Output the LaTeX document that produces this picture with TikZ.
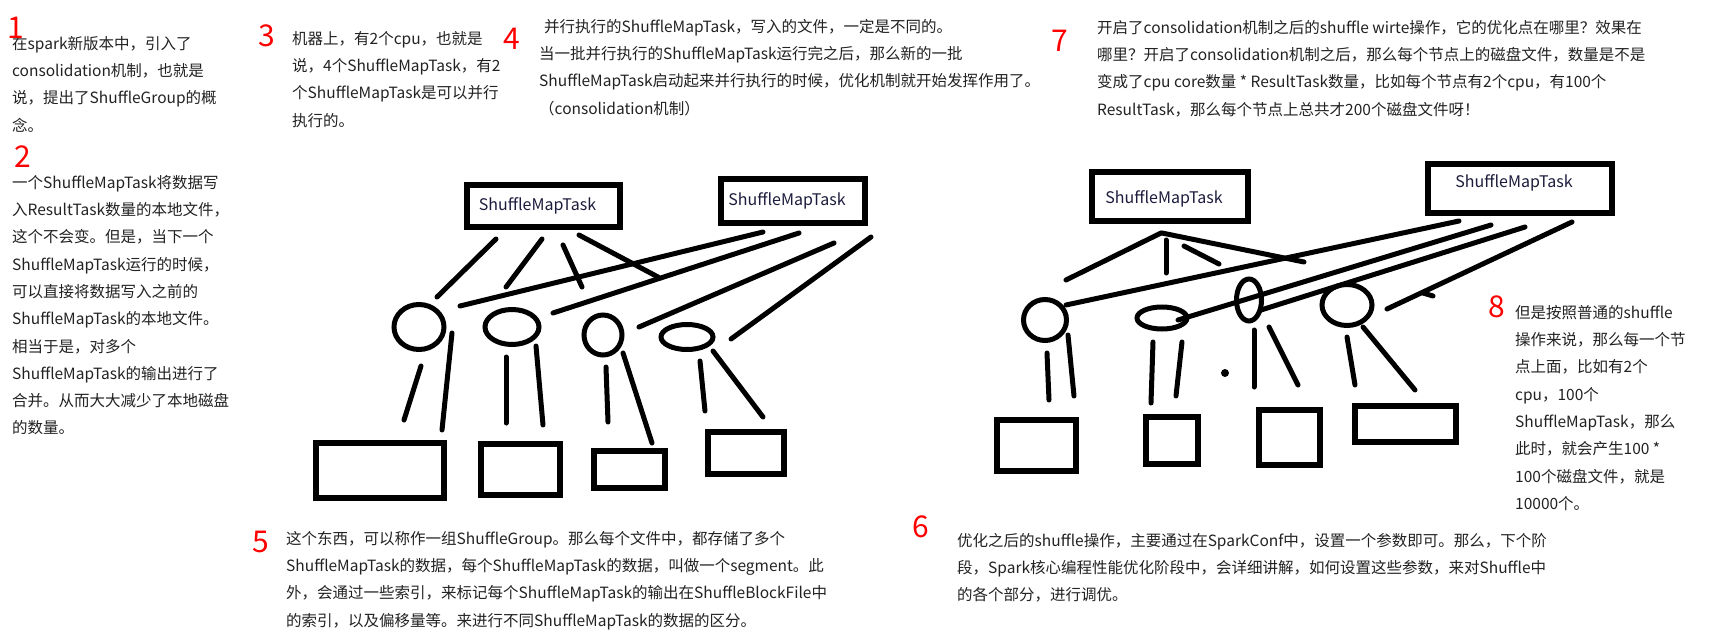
\documentclass[tikz,border=0pt]{standalone}
\usepackage{fontspec}
\newfontfamily\cjk{Noto Sans CJK SC}
\usetikzlibrary{shapes.geometric}
\usepackage{xcolor}
\definecolor{notegray}{RGB}{34,34,34}
\definecolor{tasknavy}{RGB}{28,28,60}
\definecolor{stepred}{RGB}{255,0,0}

\begin{document}
\begin{tikzpicture}[
x=1pt, y=-1pt,
note/.style={anchor=north west,
inner sep=0pt,
align=left,
text=notegray,
font=\cjk\fontsize{15.5}{27.3}\selectfont},
num/.style={inner sep=0pt,
text=stepred,
font=\cjk\fontsize{30}{30}\selectfont},
taskbox/.style 2 args={draw,
rectangle,
line width=6.5pt,
minimum width=#1,
minimum height=#2,
inner sep=0pt},
filebox/.style 2 args={draw,
rectangle,
line width=6pt,
minimum width=#1,
minimum height=#2,
inner sep=0pt},
bucket/.style 2 args={draw,
ellipse,
line width=5pt,
minimum width=#1,
minimum height=#2,
inner sep=0pt},
tasklabel/.style={text=tasknavy, font=\cjk\fontsize{16}{16}\selectfont},
stroke/.style={line width=5pt, line cap=round}
]
\useasboundingbox (0,0) rectangle (1709,642);
\fill[white] (0,0) rectangle (1709,642);

% notes
\node[note] (note1) at (12,36) {在spark新版本中，引入了\\consolidation机制，也就是\\说，提出了ShuffleGroup的概\\念。};
\node[note] (note2) at (12,175) {一个ShuffleMapTask将数据写\\入ResultTask数量的本地文件，\\这个不会变。但是，当下一个\\ShuffleMapTask运行的时候，\\可以直接将数据写入之前的\\ShuffleMapTask的本地文件。\\相当于是，对多个\\ShuffleMapTask的输出进行了\\合并。从而大大减少了本地磁盘\\的数量。};
\node[note] (note3) at (292,31) {机器上，有2个cpu，也就是\\说，4个ShuffleMapTask，有2\\个ShuffleMapTask是可以并行\\执行的。};
\node[note] (note4) at (539,19) {\hspace{5pt}并行执行的ShuffleMapTask，写入的文件，一定是不同的。\\当一批并行执行的ShuffleMapTask运行完之后，那么新的一批\\ShuffleMapTask启动起来并行执行的时候，优化机制就开始发挥作用了。\\（consolidation机制）};
\node[note] (note7) at (1097,20) {开启了consolidation机制之后的shuffle wirte操作，它的优化点在哪里？效果在\\哪里？开启了consolidation机制之后，那么每个节点上的磁盘文件，数量是不是\\变成了cpu core数量 * ResultTask数量，比如每个节点有2个cpu，有100个\\ResultTask，那么每个节点上总共才200个磁盘文件呀！};
\node[note] (note8) at (1515,305) {但是按照普通的shuffle\\操作来说，那么每一个节\\点上面，比如有2个\\cpu，100个\\ShuffleMapTask，那么\\此时，就会产生100 *\\100个磁盘文件，就是\\10000个。};
\node[note] (note5) at (286,531) {这个东西，可以称作一组ShuffleGroup。那么每个文件中，都存储了多个\\ShuffleMapTask的数据，每个ShuffleMapTask的数据，叫做一个segment。此\\外，会通过一些索引，来标记每个ShuffleMapTask的输出在ShuffleBlockFile中\\的索引，以及偏移量等。来进行不同ShuffleMapTask的数据的区分。};
\node[note] (note6) at (957,533) {优化之后的shuffle操作，主要通过在SparkConf中，设置一个参数即可。那么，下个阶\\段，Spark核心编程性能优化阶段中，会详细讲解，如何设置这些参数，来对Shuffle中\\的各个部分，进行调优。};

\node[num] (num1) at (16,28) {1};
\node[num] (num2) at (23,157) {2};
\node[num] (num3) at (267,36) {3};
\node[num] (num4) at (512,39) {4};
\node[num] (num5) at (261,542) {5};
\node[num] (num6) at (921,527) {6};
\node[num] (num7) at (1060,41) {7};
\node[num] (num8) at (1497,307) {8};

% without consolidation
\node[taskbox={153pt}{42pt}, label={[tasklabel, xshift=-6pt]center:ShuffleMapTask}] (taskA) at (543.5,206) {};
\node[taskbox={144pt}{44pt}, label={[tasklabel, xshift=-6pt]center:ShuffleMapTask}] (taskB) at (793,201) {};

\node[bucket={50pt}{45pt}] (bucketA1) at (419,327) {};
\node[bucket={54pt}{35pt}] (bucketA2) at (512,327) {};
\node[bucket={38pt}{40pt}] (bucketA3) at (603,335) {};
\node[bucket={52pt}{25pt}] (bucketA4) at (687,337) {};

\node[filebox={128pt}{55pt}] (fileA1) at (380,470.5) {};
\node[filebox={79pt}{51pt}] (fileA2) at (520.5,469.5) {};
\node[filebox={71pt}{37pt}] (fileA3) at (629.5,469.5) {};
\node[filebox={76pt}{42pt}] (fileA4) at (746,453) {};

\foreach \ax/\ay/\bx/\by in {496/239/437/297, 542/239/506/287, 563/245/582/287, 579/235/658/277,
763/232/460/306, 799/233/553/313, 834/243/639/327, 871/237/731/339,
421/366/404/420, 452/333/442/430, 506/357/506/423, 536/346/543/425,
606/367/608/422, 623/353/652/443, 700/361/705/411, 713/351/763/417}
\draw[stroke] (\ax,\ay) -- (\bx,\by);

% with consolidation
\node[taskbox={156pt}{49pt}, label={[tasklabel, xshift=-6pt, yshift=-2pt]center:ShuffleMapTask}] (taskC) at (1170,196.5) {};
\node[taskbox={184pt}{49pt}, label={[tasklabel, xshift=-6pt, yshift=6pt]center:ShuffleMapTask}] (taskD) at (1520,188.5) {};

\node[bucket={43pt}{41pt}] (bucketB1) at (1045,320) {};
\node[bucket={50pt}{22pt}] (bucketB2) at (1162,318) {};
\node[bucket={25pt}{42pt}] (bucketB3) at (1249,300) {};
\node[bucket={50pt}{41pt}] (bucketB4) at (1347,305) {};

\node[filebox={79pt}{51pt}] (fileB1) at (1036.5,445.5) {};
\node[filebox={52pt}{47pt}] (fileB2) at (1172,440.5) {};
\node[filebox={61pt}{55pt}] (fileB3) at (1289.5,437.5) {};
\node[filebox={101pt}{36pt}] (fileB4) at (1405.5,424) {};

\foreach \ax/\ay/\bx/\by in {1161/233/1066/280, 1166/240/1166/273, 1184/246/1219/264, 1162/233/1304/262,
1459/221/1066/305, 1491/225/1178/320, 1525/227/1261/310, 1572/222/1387/309, 1423/293/1433/296,
1047/353/1049/400, 1068/335/1074/396, 1153/342/1151/403, 1182/342/1176/396,
1254/330/1254/387, 1269/327/1298/385, 1347/337/1355/385, 1363/327/1415/390}
\draw[stroke] (\ax,\ay) -- (\bx,\by);

\fill (1225,373) circle (4pt);

\end{tikzpicture}
\end{document}
